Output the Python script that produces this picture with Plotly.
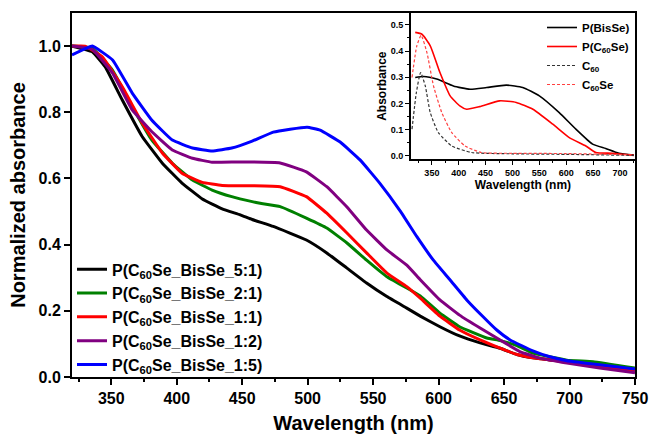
import plotly.graph_objects as go

# ---- main chart data (normalized absorbance) ----
wl_black = [320, 335.5, 345.4, 358.4, 373.7, 389, 404, 419.5, 434.7, 448.5, 457.6, 473.7, 499, 514.6, 530, 545, 560.5, 575.7, 586, 601, 616, 631.7, 647, 659.7, 672, 698, 723, 750]
ab_black = [1.0, 0.983, 0.937, 0.837, 0.726, 0.646, 0.586, 0.538, 0.508, 0.490, 0.476, 0.455, 0.414, 0.375, 0.329, 0.284, 0.243, 0.208, 0.184, 0.152, 0.124, 0.103, 0.087, 0.068, 0.058, 0.046, 0.031, 0.021]

wl_green = [320, 335.5, 351, 366, 381, 396.6, 412, 427, 442, 457.6, 463.7, 479, 499, 514.6, 530, 545, 560.5, 575.7, 586, 601, 616, 636.8, 647, 659.7, 672, 698, 718, 750]
ab_green = [1.0, 0.993, 0.927, 0.817, 0.716, 0.646, 0.595, 0.565, 0.545, 0.530, 0.525, 0.515, 0.480, 0.450, 0.405, 0.353, 0.303, 0.269, 0.245, 0.193, 0.152, 0.118, 0.110, 0.095, 0.072, 0.051, 0.046, 0.027]

wl_red = [320, 330, 343, 358.4, 373.7, 389, 404, 419.5, 434.7, 457.6, 479, 499, 514.6, 530, 545, 560.5, 575.7, 586, 601, 616, 631.7, 647, 660, 672, 698, 723, 750]
ab_red = [1.0, 1.0, 0.968, 0.877, 0.767, 0.677, 0.616, 0.588, 0.579, 0.578, 0.575, 0.545, 0.495, 0.435, 0.375, 0.314, 0.273, 0.238, 0.184, 0.142, 0.112, 0.087, 0.068, 0.058, 0.045, 0.031, 0.020]

wl_purple = [320, 335.5, 351, 366, 381, 396.6, 412, 427, 448.5, 479, 499, 514.6, 530, 545, 560.5, 575.7, 586, 601, 616, 631.7, 647, 662, 677.5, 698, 723, 750]
ab_purple = [1.0, 0.990, 0.918, 0.807, 0.741, 0.686, 0.661, 0.649, 0.650, 0.647, 0.620, 0.575, 0.514, 0.444, 0.384, 0.338, 0.294, 0.233, 0.187, 0.148, 0.112, 0.077, 0.057, 0.042, 0.027, 0.013]

wl_blue = [320, 335.5, 351, 366, 381, 396.6, 412, 427, 442, 457.6, 473.7, 486.6, 499.6, 509.5, 524.8, 540, 555, 570.6, 583.4, 596, 608.8, 621.5, 634, 644.4, 654.6, 672, 685, 698, 718, 750]
ab_blue = [0.973, 1.0, 0.958, 0.858, 0.776, 0.716, 0.692, 0.683, 0.692, 0.713, 0.740, 0.749, 0.755, 0.746, 0.710, 0.656, 0.586, 0.502, 0.424, 0.353, 0.293, 0.233, 0.182, 0.142, 0.112, 0.079, 0.061, 0.049, 0.039, 0.024]

main_names = ["P(C<sub>60</sub>Se_BisSe_5:1)", "P(C<sub>60</sub>Se_BisSe_2:1)",
              "P(C<sub>60</sub>Se_BisSe_1:1)", "P(C<sub>60</sub>Se_BisSe_1:2)",
              "P(C<sub>60</sub>Se_BisSe_1:5)"]
main_colors = ["#000000", "#008000", "#ff0000", "#800080", "#0000ff"]

# ---- inset data (absorbance) ----
wl_bisse = [319, 334.6, 359, 390, 421, 452, 488.6, 519, 550, 587, 618, 649, 673.5, 698, 726]
ab_bisse = [0.299, 0.303, 0.293, 0.267, 0.254, 0.261, 0.270, 0.261, 0.229, 0.165, 0.102, 0.045, 0.028, 0.010, 0.003]

wl_pc60se = [319, 331.5, 347, 365, 384, 402, 414.7, 439, 476, 507, 538, 575, 605.7, 636.5, 655, 686, 726]
ab_pc60se = [0.471, 0.464, 0.420, 0.318, 0.229, 0.191, 0.178, 0.188, 0.210, 0.204, 0.178, 0.121, 0.070, 0.038, 0.013, 0.010, 0.002]

wl_c60 = [313, 321, 329, 337.7, 347, 362, 387, 424, 500, 600, 726]
ab_c60 = [0.102, 0.240, 0.318, 0.267, 0.165, 0.089, 0.038, 0.013, 0.008, 0.006, 0.002]

wl_c60se = [313, 322, 330, 340.8, 353, 368.5, 387, 411.6, 442, 500, 600, 726]
ab_c60se = [0.299, 0.420, 0.460, 0.394, 0.267, 0.165, 0.089, 0.038, 0.013, 0.010, 0.009, 0.004]

inset_names = ["P(BisSe)", "P(C<sub>60</sub>Se)", "C<sub>60</sub>", "C<sub>60</sub>Se"]

FONT = "Liberation Sans, Arial, sans-serif"

fig = go.Figure()

main_x = [wl_black, wl_green, wl_red, wl_purple, wl_blue]
main_y = [ab_black, ab_green, ab_red, ab_purple, ab_blue]
for xs, ys, nm, col in zip(main_x, main_y, main_names, main_colors):
    fig.add_trace(go.Scatter(x=xs, y=ys, name=nm, mode="lines",
                             line=dict(color=col, width=3, shape="spline", smoothing=0.3),
                             xaxis="x", yaxis="y", legend="legend"))

inset_x = [wl_bisse, wl_pc60se, wl_c60, wl_c60se]
inset_y = [ab_bisse, ab_pc60se, ab_c60, ab_c60se]
inset_styles = [dict(color="#000000", width=1.6), dict(color="#ff0000", width=1.6),
                dict(color="#333333", width=1.2, dash="3px,2px"), dict(color="#ff4040", width=1.2, dash="3px,2px")]
for xs, ys, nm, st in zip(inset_x, inset_y, inset_names, inset_styles):
    fig.add_trace(go.Scatter(x=xs, y=ys, name=nm, mode="lines",
                             line=dict(shape="spline", smoothing=0.5, **st),
                             xaxis="x2", yaxis="y2", legend="legend2"))

axis_common = dict(showline=True, linecolor="black", mirror=True, showgrid=False,
                   zeroline=False, ticks="outside", tickcolor="black", automargin=False)

fig.update_layout(
    width=651, height=435,
    margin=dict(l=72, r=16, t=13, b=58),
    plot_bgcolor="white", paper_bgcolor="white",
    font=dict(family=FONT, color="black", weight="bold"),
    xaxis=dict(domain=[0, 1], range=[320, 750], tickvals=[350, 400, 450, 500, 550, 600, 650, 700, 750],
               linewidth=2, tickwidth=2, ticklen=6,
               minor=dict(dtick=25, tick0=325, ticks="outside", ticklen=3, tickwidth=1.5, tickcolor="black"),
               tickfont=dict(size=16, family=FONT, weight="bold"),
               title=dict(text="Wavelength (nm)", font=dict(size=20, family=FONT, weight="bold"), standoff=10),
               **axis_common),
    yaxis=dict(domain=[0, 1], range=[0, 1.1], tickvals=[0, 0.2, 0.4, 0.6, 0.8, 1.0], tickformat=".1f",
               linewidth=2, tickwidth=2, ticklen=6,
               tickfont=dict(size=16, family=FONT, weight="bold"),
               title=dict(text="Normalized absorbance", font=dict(size=20, family=FONT, weight="bold"), standoff=8),
               **axis_common),
    xaxis2=dict(domain=[0.602, 1.0], anchor="y2", range=[311, 728],
                tickvals=[350, 400, 450, 500, 550, 600, 650, 700],
                linewidth=1.5, tickwidth=1.2, ticklen=4,
                minor=dict(dtick=25, tick0=325, ticks="outside", ticklen=2, tickwidth=1, tickcolor="black"),
                tickfont=dict(size=9, family=FONT, weight="bold"),
                title=dict(text="Wavelength (nm)", font=dict(size=12, family=FONT, weight="bold"), standoff=2),
                **axis_common),
    yaxis2=dict(domain=[0.598, 1.0], anchor="x2", range=[-0.013, 0.545],
                tickvals=[0, 0.1, 0.2, 0.3, 0.4, 0.5], tickformat=".1f",
                linewidth=1.5, tickwidth=1.2, ticklen=4,
                minor=dict(dtick=0.05, tick0=0, ticks="outside", ticklen=2, tickwidth=1, tickcolor="black"),
                tickfont=dict(size=9, family=FONT, weight="bold"),
                title=dict(text="Absorbance", font=dict(size=12, family=FONT, weight="bold"), standoff=2),
                **axis_common),
    legend=dict(x=0.0, y=-0.012, xanchor="left", yanchor="bottom", bgcolor="rgba(0,0,0,0)",
                font=dict(size=16, family=FONT, weight="bold"), tracegroupgap=0, itemwidth=30),
    legend2=dict(x=1.0, y=1.0, xanchor="right", yanchor="top", bgcolor="rgba(0,0,0,0)",
                 font=dict(size=11.5, family=FONT, weight="bold"), tracegroupgap=0, itemwidth=30),
    showlegend=True,
)

fig.write_html("out.html", config={"displayModeBar": False},
               post_script="document.body.style.margin='0px';document.body.style.overflow='hidden';window.dispatchEvent(new Event('resize'));")
